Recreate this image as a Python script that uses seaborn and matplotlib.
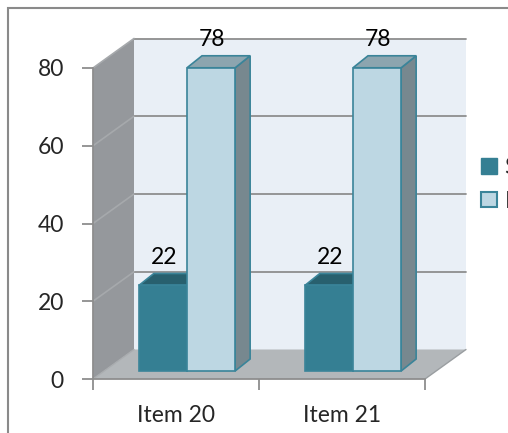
import matplotlib
matplotlib.use('Agg')
import matplotlib.pyplot as plt
import seaborn as sns
import pandas as pd
from matplotlib.patches import Polygon, Rectangle, Patch
from matplotlib.lines import Line2D
from matplotlib.transforms import Affine2D, IdentityTransform

# data
items = ['Item 20', 'Item 21']
series = ['Sí', 'No']
si_values = [22, 22]
no_values = [78, 78]
y_ticks = [0, 20, 40, 60, 80]

df = pd.DataFrame({
    'item': items * 2,
    'series': [series[0]] * len(items) + [series[1]] * len(items),
    'value': si_values + no_values,
})

# colours
dark = '#357F93'
light = '#BDD7E3'
edge = '#3A8499'
dark_top = '#28606E'
light_top = '#8CA5AF'
light_side = '#77888F'
back_wall = '#E9EFF6'
side_wall = '#95989C'
floor_c = '#B3B7BA'
grid_c = '#8E8E8E'

sns.set_style('white')
plt.rcParams['font.family'] = ['Lato', 'DejaVu Sans']
FS = 16.5

W, H = 508, 433
fig = plt.figure(figsize=(W / 100, H / 100), dpi=100)
ax = fig.add_axes([93 / W, (H - 379) / H, (425 - 93) / W, (379 - 68) / H])

sns.barplot(data=df, x='item', y='value', hue='series', palette=[dark, light],
            width=0.58, saturation=1, edgecolor=edge, linewidth=1.2,
            legend=False, ax=ax)
ax.set_xlim(-0.5, 1.5)
ax.set_ylim(0, 80)
ax.set_facecolor('none')
ax.set_xlabel('')
ax.set_ylabel('')

# 3d look: depth offsets in pixels
DX, DY = 41, 29.5      # whole floor depth
OX, OY = 11, 8         # bar front offset
BX, BY = 15, 12        # bar depth


def px(x, y):
    return ax.transData.transform((x, y))


def poly(pts, color, z, ec='none', lw=0):
    ax.add_patch(Polygon(pts, closed=True, facecolor=color, edgecolor=ec, linewidth=lw,
                         transform=IdentityTransform(), clip_on=False, zorder=z))


def seg(p, q, color=grid_c, lw=1.3, z=1):
    ax.add_line(Line2D([p[0], q[0]], [p[1], q[1]], color=color, lw=lw,
                       transform=IdentityTransform(), clip_on=False, zorder=z))


d = (DX, DY)
x0, x1 = ax.get_xlim()
ytop = y_ticks[-1]
f00, f10, f01, f11 = px(x0, 0), px(x1, 0), px(x0, ytop), px(x1, ytop)
poly([f00 + d, f10 + d, f11 + d, f01 + d], back_wall, 0.1)
poly([f00, f00 + d, f01 + d, f01], side_wall, 0.2)
poly([f00, f10, f10 + d, f00 + d], floor_c, 0.3)
seg(f10, f10 + d, color='#9A9EA1', lw=1.0, z=0.4)
seg(f00, f00 + d, color='#A9ACAF', lw=1.0, z=0.4)
for v in y_ticks[1:]:
    seg(px(x0, v) + d, px(x1, v) + d, z=0.5)
    seg(px(x0, v), px(x0, v) + d, color='#A6A9AC', lw=1.2, z=0.5)

# bars: shift fronts back a little and add side and top faces
off = Affine2D().translate(OX, OY)
o = (OX, OY)
b = (BX, BY)
for k, (cont, top_c, side_c) in enumerate(zip(ax.containers, [dark_top, light_top], [dark, light_side])):
    for bar in cont:
        bar.set_transform(ax.transData + off)
        bar.set_clip_on(False)
        bar.set_zorder(3 + 2 * k + 1)
        x, w, h = bar.get_x(), bar.get_width(), bar.get_height()
        bl, br = px(x, 0) + o, px(x + w, 0) + o
        tl, tr = px(x, h) + o, px(x + w, h) + o
        poly([br, tr, tr + b, br + b], side_c, 3 + 2 * k, ec=edge, lw=1.2)
        poly([tl, tr, tr + b, tl + b], top_c, 3 + 2 * k, ec=edge, lw=1.2)
        ax.annotate(f'{h:g}', xy=(x + w / 2, h), xytext=(OX + 1, OY + 28),
                    textcoords='offset pixels', ha='center', va='center',
                    fontsize=FS, color='black', zorder=10)

# axes styling
for s in ['top', 'right']:
    ax.spines[s].set_visible(False)
for s in ['left', 'bottom']:
    ax.spines[s].set_color(grid_c)
    ax.spines[s].set_linewidth(1.3)
    ax.spines[s].set_zorder(2)
ax.set_yticks(y_ticks)
ax.tick_params(axis='y', length=8, width=1.3, color=grid_c, pad=13, labelsize=FS, left=True)
ax.set_xticks(range(len(items)))
ax.set_xticklabels(items)
ax.set_xticks([x0, 0.5, x1], minor=True)
ax.tick_params(axis='x', which='major', length=0, pad=19, labelsize=FS)
ax.tick_params(axis='x', which='minor', length=8, width=1.3, color=grid_c, bottom=True)

# legend (cut off at the right edge like the original)
handles = [Patch(facecolor=dark, edgecolor=dark, label=series[0]),
           Patch(facecolor=light, edgecolor=edge, linewidth=1.5, label=series[1])]
fig.legend(handles=handles, loc='upper left', bbox_to_anchor=(481 / W, 1 - 157 / H),
           frameon=False, fontsize=FS, handlelength=0.68, handleheight=0.68,
           handletextpad=0.35, labelspacing=0.55, borderpad=0, borderaxespad=0)

# chart area border
fig.add_artist(Rectangle((8 / W, -0.2), 1.2, (H - 8) / H + 0.2, transform=fig.transFigure,
                         fill=False, edgecolor='#8A8A8A', linewidth=1.5))

fig.savefig('out.png', dpi=100)
